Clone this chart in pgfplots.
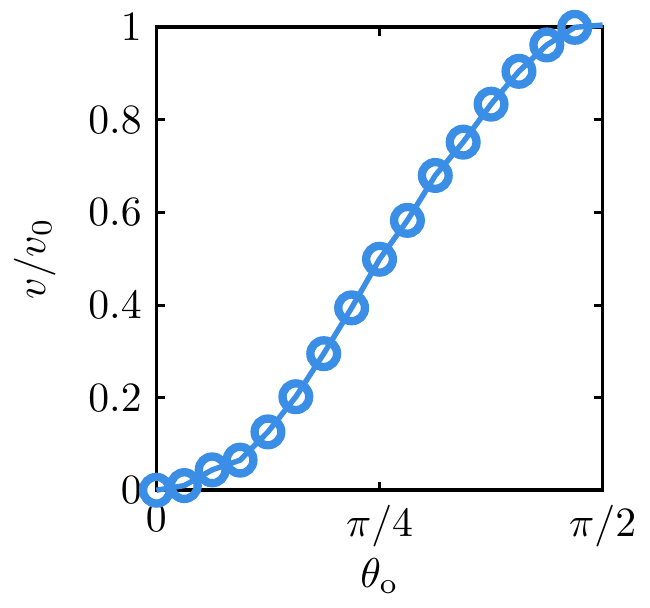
\documentclass[border=0pt]{standalone}
\usepackage{pgfplots}
\pgfplotsset{compat=1.18}
\definecolor{myblue}{RGB}{58,142,230}
\begin{document}
\begin{tikzpicture}
\begin{axis}[
  width=107pt, height=111pt, scale only axis,
  xmin=0, xmax=1.5708, ymin=0, ymax=1,
  xtick={0,0.7854,1.5708},
  xticklabels={$0$,$\pi/4$,$\pi/2$},
  ytick={0,0.2,0.4,0.6,0.8,1},
  yticklabels={$0$,$0.2$,$0.4$,$0.6$,$0.8$,$1$},
  tick align=inside,
  major tick length=2pt,
  every tick/.style={black, line width=0.7pt},
  axis line style={line width=0.9pt},
  xlabel={$\theta_\mathrm{o}$},
  ylabel={$v/v_0$},
  xlabel style={yshift=4pt},
  ylabel style={yshift=1pt},
  clip=false,
]
\addplot[myblue, line width=1.3pt] coordinates {
(0.0000,0.000) (0.0982,0.010) (0.1963,0.044) (0.2945,0.065) (0.3927,0.126)
(0.4909,0.202) (0.5890,0.295) (0.6872,0.394) (0.7854,0.499) (0.8836,0.583)
(0.9817,0.680) (1.0799,0.752) (1.1781,0.834) (1.2763,0.905) (1.3744,0.962)
(1.4726,1.000) (1.5708,1.005)
};
\addplot[only marks, mark=o, mark size=3.2pt, myblue, mark options={line width=2pt}] coordinates {
(0.0000,0.000) (0.0982,0.010) (0.1963,0.044) (0.2945,0.065) (0.3927,0.126)
(0.4909,0.202) (0.5890,0.295) (0.6872,0.394) (0.7854,0.499) (0.8836,0.583)
(0.9817,0.680) (1.0799,0.752) (1.1781,0.834) (1.2763,0.905) (1.3744,0.962)
(1.4726,1.000)
};
\end{axis}
\end{tikzpicture}
\end{document}
